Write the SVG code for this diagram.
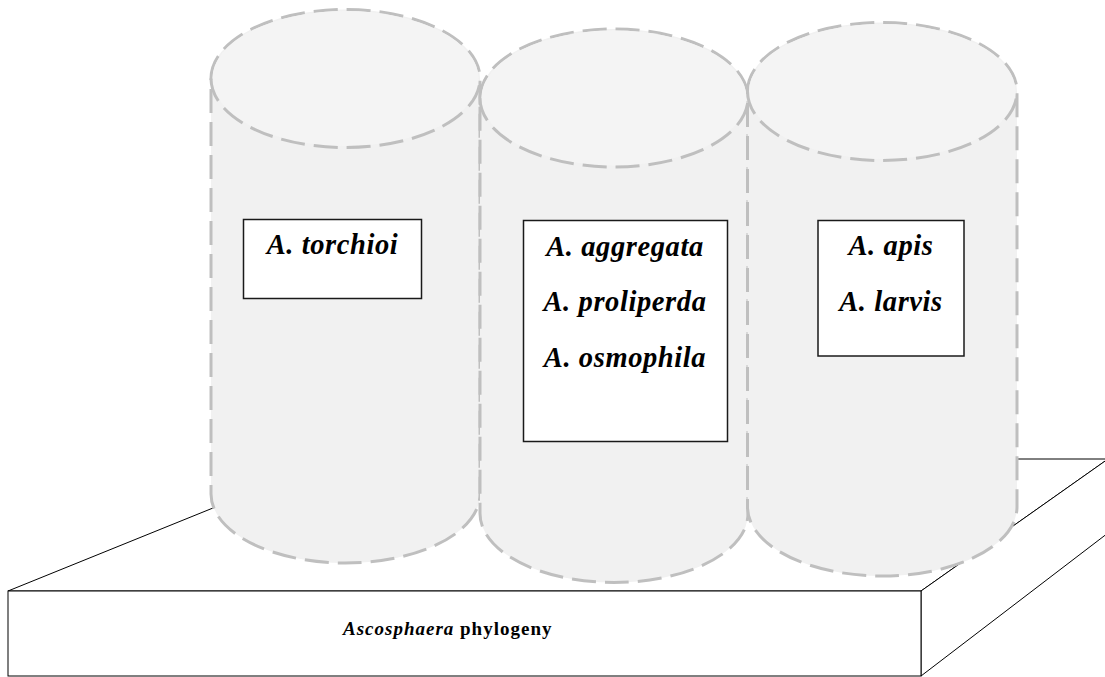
<svg xmlns="http://www.w3.org/2000/svg" width="1105" height="677" viewBox="0 0 1105 677">
  <defs>
    <style>
      .slab { fill: #ffffff; stroke: #000000; stroke-width: 1; stroke-linejoin: miter; }
      .body { fill: #f1f1f1; stroke: #bfbfbf; stroke-width: 3; stroke-dasharray: 24 9; }
      .cap { fill: #f4f4f4; stroke: none; }
      .rim { fill: none; stroke: #bfbfbf; stroke-width: 3; stroke-dasharray: 24 9; }
      .box { fill: #ffffff; stroke: #1a1a1a; stroke-width: 1.5; }
      .name { font-family: "Liberation Serif", "Times New Roman", serif; font-size: 28.5px; letter-spacing: 0.6px; font-weight: bold; font-style: italic; fill: #000000; text-anchor: middle; }
      .base { font-family: "Liberation Serif", "Times New Roman", serif; font-size: 19px; letter-spacing: 1px; font-weight: bold; fill: #000000; }
    </style>
  </defs>

  <!-- platform slab -->
  <g id="platform">
    <polygon class="slab" points="8,591 334,459 1108,459 921,591"/>
    <polygon class="slab" points="921,591 1108,459 1108,533 921,676"/>
    <rect class="slab" x="8" y="591" width="913" height="85"/>
    <text class="base" x="343" y="635"><tspan font-style="italic">Ascosphaera</tspan> phylogeny</text>
  </g>

  <!-- cylinder 1 -->
  <g id="cyl-torchioi">
    <path class="body" d="M211,78.5 A134.5,69 0 0 1 480,78.5 L480,494 A134.5,69 0 0 1 211,494 Z"/>
    <ellipse class="cap" cx="345.5" cy="78.5" rx="133" ry="67.5"/>
    <path class="rim" d="M211,78.5 A134.5,69 0 0 0 480,78.5"/>
  </g>

  <!-- cylinder 2 -->
  <g id="cyl-aggregata">
    <path class="body" d="M480,98 A134,69 0 0 1 748,98 L748,513.5 A134,69 0 0 1 480,513.5 Z"/>
    <ellipse class="cap" cx="614" cy="98" rx="132.5" ry="67.5"/>
    <path class="rim" d="M480,98 A134,69 0 0 0 748,98"/>
  </g>

  <!-- cylinder 3 -->
  <g id="cyl-apis">
    <path class="body" d="M747.5,91.5 A134.75,69 0 0 1 1017,91.5 L1017,507 A134.75,69 0 0 1 747.5,507 Z"/>
    <ellipse class="cap" cx="882.25" cy="91.5" rx="133.25" ry="67.5"/>
    <path class="rim" d="M747.5,91.5 A134.75,69 0 0 0 1017,91.5"/>
  </g>

  <!-- species labels -->
  <g id="label-torchioi">
    <rect class="box" x="243.5" y="219.5" width="178" height="79"/>
    <text class="name" x="332.5" y="254">A. torchioi</text>
  </g>

  <g id="label-aggregata">
    <rect class="box" x="523.5" y="220.5" width="204" height="221"/>
    <text class="name" x="625" y="255.5">A. aggregata</text>
    <text class="name" x="625" y="311">A. proliperda</text>
    <text class="name" x="625" y="366.5">A. osmophila</text>
  </g>

  <g id="label-apis">
    <rect class="box" x="818" y="220.5" width="146" height="135.5"/>
    <text class="name" x="891" y="255">A. apis</text>
    <text class="name" x="891" y="310.5">A. larvis</text>
  </g>

  <g id="connectors"/>
</svg>
